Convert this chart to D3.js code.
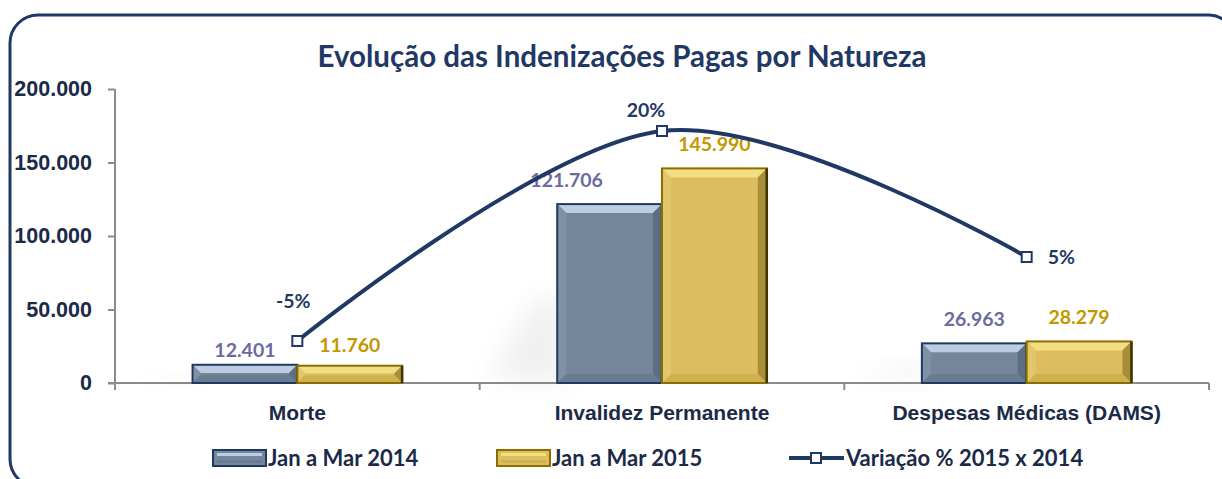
<!DOCTYPE html>
<html>
<head>
<meta charset="utf-8">
<script src="https://cdn.jsdelivr.net/npm/d3@7"></script>
<style>
  body { margin: 0; background: #fff; }
  svg { display: block; font-family: Lato, "Open Sans", sans-serif; font-weight: bold; }
</style>
</head>
<body>
<svg width="1222" height="479"></svg>
<script>
// dados
const categories = ["Morte", "Invalidez Permanente", "Despesas Médicas (DAMS)"];
const seriesNames = ["Jan a Mar 2014", "Jan a Mar 2015"];
const values2014 = [12401, 121706, 26963];
const values2015 = [11760, 145990, 28279];
const variation = [-0.05, 0.20, 0.05];
const yTicks = [0, 50000, 100000, 150000, 200000];
const lineName = "Variação % 2015 x 2014";

/*----------- Dimensões -----------*/
const plot = { left: 115, right: 1209, top: 89, bottom: 383 };
const navy = "#1f3864";
const axisGrey = "#8c8c8c";
const textCol = "#1b2a47";

const svg = d3.select("svg");

// moldura arredondada (sai pela direita e por baixo)
svg.append("rect")
  .attr("x", 10).attr("y", 15)
  .attr("width", 1226).attr("height", 472)
  .attr("rx", 28).attr("ry", 28)
  .attr("fill", "none")
  .attr("stroke", navy).attr("stroke-width", 3);

svg.append("text")
  .attr("x", 622).attr("y", 67)
  .attr("text-anchor", "middle")
  .attr("fill", navy)
  .attr("font-size", 29.5)
  .text("Evolução das Indenizações Pagas por Natureza");

/*----------- Escalas -----------*/
const x0 = d3.scaleBand().domain(categories).range([plot.left, plot.right]).padding(0);
const x1 = d3.scaleBand().domain(seriesNames).range([0, x0.bandwidth()]).paddingInner(0).paddingOuter(0.74);
const y = d3.scaleLinear().domain([0, 200000]).range([plot.bottom, plot.top]);
const y2 = d3.scaleLinear().domain([-0.10, 0.25]).range([plot.bottom, plot.top]);

const fmt = (v) => d3.format(",")(v).replace(/,/g, ".");
const pct = (v) => d3.format(".0%")(v).replace("−", "-");

// eixo Y
const yAxis = svg.append("g")
  .attr("transform", "translate(" + plot.left + ",0)")
  .call(d3.axisLeft(y).tickValues(yTicks).tickSize(7).tickPadding(16).tickFormat(fmt));
yAxis.select(".domain").attr("stroke", axisGrey).attr("stroke-width", 2)
  .attr("d", "M0," + plot.top + "V" + (plot.bottom + 7));
yAxis.selectAll(".tick line").attr("stroke", axisGrey).attr("stroke-width", 2);
yAxis.selectAll(".tick text").attr("fill", textCol).attr("font-size", 21.5);

// eixo X (marcas nas fronteiras das categorias)
const xAxis = svg.append("g")
  .attr("transform", "translate(0," + plot.bottom + ")")
  .call(d3.axisBottom(x0).tickSize(0).tickPadding(22));
xAxis.select(".domain").attr("stroke", axisGrey).attr("stroke-width", 2)
  .attr("d", "M" + (plot.left - 7) + ",0H" + plot.right);
xAxis.selectAll(".tick text").attr("fill", textCol).attr("font-size", 21);
xAxis.selectAll("line.bound")
  .data(categories.map((c) => x0(c)).concat([plot.right]))
  .enter().append("line").attr("class", "bound")
  .attr("x1", (d) => d).attr("x2", (d) => d)
  .attr("y1", 0).attr("y2", 7)
  .attr("stroke", axisGrey).attr("stroke-width", 2);

/*----------- Barras -----------*/
const barStyles = [
  { fill: "#74869b", stroke: "#1f3a60", top: "#bccde2", left: "#8091a5", right: "#5d6e83", bottom: "#6a7c91", edge: "#1f3a60", label: "#6b6b9f" },
  { fill: "#dcbe5f", stroke: "#8c6e00", top: "#f3dd82", left: "#e2c66a", right: "#a88e3a", bottom: "#cfb152", edge: "#3f3300", label: "#c39700" }
];

const defs = svg.append("defs");
defs.append("filter").attr("id", "blur").attr("x", "-50%").attr("y", "-50%").attr("width", "200%").attr("height", "200%")
  .append("feGaussianBlur").attr("stdDeviation", 14);

const bars = [];
categories.forEach((c, i) => {
  [values2014[i], values2015[i]].forEach((v, s) => {
    bars.push({ cat: c, series: seriesNames[s], s: s, value: v });
  });
});

// sombra suave atrás das barras
svg.append("g").selectAll("path")
  .data(categories)
  .enter().append("path")
  .attr("filter", "url(#blur)")
  .attr("fill", "#000").attr("opacity", 0.06)
  .attr("d", (c, i) => {
    const bx = x0(c) + x1(seriesNames[0]) + 10;
    const top = y(Math.max(values2014[i], values2015[i]) * 0.4);
    return "M" + bx + "," + plot.bottom + "L" + (bx - 80) + "," + (plot.bottom - 5) +
      "L" + (bx - 30) + "," + top + "L" + bx + "," + top + "Z";
  });

const bevel = 9;
svg.append("g").selectAll("g")
  .data(bars)
  .enter().append("g")
  .each(function (d) {
    const g = d3.select(this);
    const st = barStyles[d.s];
    const bx = x0(d.cat) + x1(d.series);
    const bw = x1.bandwidth();
    const by = y(d.value);
    const bh = plot.bottom - by;
    const b = Math.min(bevel, bh / 2 - 1);
    const pts = (arr) => arr.map((p) => p.join(",")).join(" ");
    g.append("rect").attr("x", bx).attr("y", by).attr("width", bw).attr("height", bh).attr("fill", st.fill);
    g.append("polygon").attr("fill", st.top)
      .attr("points", pts([[bx, by], [bx + bw, by], [bx + bw - b, by + b], [bx + b, by + b]]));
    g.append("polygon").attr("fill", st.left)
      .attr("points", pts([[bx, by], [bx + b, by + b], [bx + b, by + bh - b], [bx, by + bh]]));
    g.append("polygon").attr("fill", st.right)
      .attr("points", pts([[bx + bw, by], [bx + bw, by + bh], [bx + bw - b, by + bh - b], [bx + bw - b, by + b]]));
    g.append("polygon").attr("fill", st.bottom)
      .attr("points", pts([[bx, by + bh], [bx + b, by + bh - b], [bx + bw - b, by + bh - b], [bx + bw, by + bh]]));
    g.append("rect").attr("x", bx).attr("y", by).attr("width", bw).attr("height", bh)
      .attr("fill", "none").attr("stroke", st.stroke).attr("stroke-width", 2);
    g.append("line").attr("x1", bx + bw).attr("x2", bx + bw).attr("y1", by).attr("y2", plot.bottom)
      .attr("stroke", st.edge).attr("stroke-width", 2.5);
  });

// rótulos de valor (ajustes finos de posição como no original)
const barLabelNudge = [[0, 9], [0, 3], [-43, 0], [0, 0], [0, 0], [0, 0]];
svg.append("g").selectAll("text")
  .data(bars)
  .enter().append("text")
  .attr("x", (d, i) => x0(d.cat) + x1(d.series) + x1.bandwidth() / 2 + barLabelNudge[i][0])
  .attr("y", (d, i) => y(d.value) - 17 + barLabelNudge[i][1])
  .attr("text-anchor", "middle")
  .attr("font-size", 19.5)
  .attr("fill", (d) => barStyles[d.s].label)
  .text((d) => fmt(d.value));

/*----------- Linha de variação -----------*/
const linePts = categories.map((c, i) => ({ x: x0(c) + x0.bandwidth() / 2, v: variation[i] }));
const line = d3.line().x((d) => d.x).y((d) => y2(d.v)).curve(d3.curveCardinal.tension(0));

svg.append("path")
  .datum(linePts)
  .attr("fill", "none")
  .attr("stroke", navy)
  .attr("stroke-width", 4)
  .attr("d", line);

svg.append("g").selectAll("rect")
  .data(linePts)
  .enter().append("rect")
  .attr("x", (d) => d.x - 5).attr("y", (d) => y2(d.v) - 5)
  .attr("width", 10).attr("height", 10)
  .attr("fill", "#fff").attr("stroke", navy).attr("stroke-width", 2);

const lineLabelNudge = [[-4, -33, "middle"], [-16, -14, "middle"], [21, 7, "start"]];
svg.append("g").selectAll("text")
  .data(linePts)
  .enter().append("text")
  .attr("x", (d, i) => d.x + lineLabelNudge[i][0])
  .attr("y", (d, i) => y2(d.v) + lineLabelNudge[i][1])
  .attr("text-anchor", (d, i) => lineLabelNudge[i][2])
  .attr("font-size", 19.5)
  .attr("fill", navy)
  .text((d) => pct(d.v));

/*----------- Legenda -----------*/
const legend = svg.append("g").attr("transform", "translate(0,458)");
const legendX = [213, 497];
seriesNames.forEach((name, s) => {
  const st = barStyles[s];
  const gx = legendX[s];
  const lg = legend.append("g");
  lg.append("rect").attr("x", gx).attr("y", -8).attr("width", 53).attr("height", 16).attr("fill", st.fill)
    .attr("stroke", st.stroke).attr("stroke-width", 2);
  lg.append("rect").attr("x", gx + 4).attr("y", -5).attr("width", 45).attr("height", 3).attr("fill", st.top);
  lg.append("rect").attr("x", gx + 4).attr("y", 2).attr("width", 45).attr("height", 3).attr("fill", st.bottom);
  lg.append("text").attr("x", gx + 55).attr("y", 8).attr("font-size", 22).attr("fill", textCol).text(name);
});
legend.append("line").attr("x1", 789).attr("x2", 844).attr("y1", 0).attr("y2", 0)
  .attr("stroke", navy).attr("stroke-width", 4);
legend.append("rect").attr("x", 811).attr("y", -5).attr("width", 10).attr("height", 10)
  .attr("fill", "#fff").attr("stroke", navy).attr("stroke-width", 2);
legend.append("text").attr("x", 846).attr("y", 8).attr("font-size", 22).attr("fill", textCol).text(lineName);
</script>
</body>
</html>
